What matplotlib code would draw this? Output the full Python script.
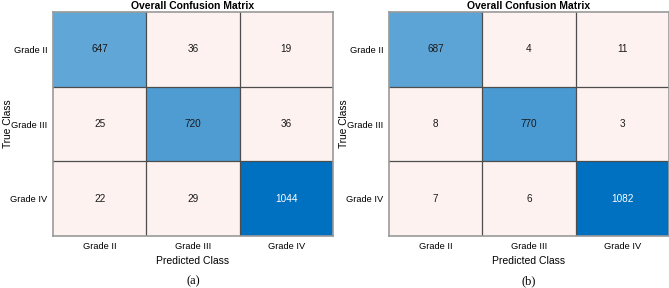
import numpy as np
import matplotlib
matplotlib.use("Agg")
import matplotlib.pyplot as plt

plt.rcParams['font.family'] = ['Liberation Sans', 'DejaVu Sans']

classes = ['Grade II', 'Grade III', 'Grade IV']
cm_a = [[647, 36, 19],
        [25, 720, 36],
        [22, 29, 1044]]
cm_b = [[687, 4, 11],
        [8, 770, 3],
        [7, 6, 1082]]
panels = ['(a)', '(b)']

blue = np.array([0, 112, 192]) / 255.0
offdiag = np.array([253, 242, 239]) / 255.0


def cell_colors(cm):
    cm = np.array(cm, dtype=float)
    n = cm.shape[0]
    rgb = np.zeros((n, n, 3))
    vmax = np.diag(cm).max()
    for i in range(n):
        for j in range(n):
            if i == j:
                t = cm[i, j] / vmax
                rgb[i, j] = (1 - t) * np.ones(3) + t * blue
            else:
                rgb[i, j] = offdiag
    return rgb


fig = plt.figure(figsize=(6.69, 2.88), dpi=100)
lefts = [53 / 669, 389 / 669]
for k, cm in enumerate([cm_a, cm_b]):
    ax = fig.add_axes([lefts[k], 1 - 236 / 288, 280 / 669, 224 / 288])
    ax.imshow(cell_colors(cm), aspect='auto', interpolation='nearest',
              extent=(-0.5, 2.5, 2.5, -0.5))
    n = len(classes)
    for i in range(n):
        for j in range(n):
            v = cm[i][j]
            c = 'white' if (i == j and v > 900) else '#1a1a1a'
            ax.text(j, i, str(v), ha='center', va='center', fontsize=7.2, color=c)
    for p in [0.5, 1.5]:
        ax.axvline(p, color='#4d4d4d', lw=0.9)
        ax.axhline(p, color='#4d4d4d', lw=0.9)
    for s in ax.spines.values():
        s.set_color('#9a9a9a')
        s.set_linewidth(1.2)
    ax.set_xticks(range(n))
    ax.set_yticks(range(n))
    ax.set_xticklabels(classes, fontsize=6.7)
    ax.set_yticklabels(classes, fontsize=6.7)
    ax.tick_params(length=0, pad=4)
    ax.set_xlabel('Predicted Class', fontsize=7.5)
    ax.xaxis.set_label_coords(0.5, -0.09)
    ax.set_ylabel('True Class', fontsize=7.3)
    ax.yaxis.set_label_coords(-0.142, 0.5)
    ax.set_title('Overall Confusion Matrix', fontsize=7.5, fontweight='bold', pad=2)
    cx = lefts[k] + 140 / 669
    fig.text(cx, 1 - 281 / 288, panels[k], ha='center', va='center',
             fontsize=9, family='Liberation Serif')

fig.savefig('out.png', dpi=100)
